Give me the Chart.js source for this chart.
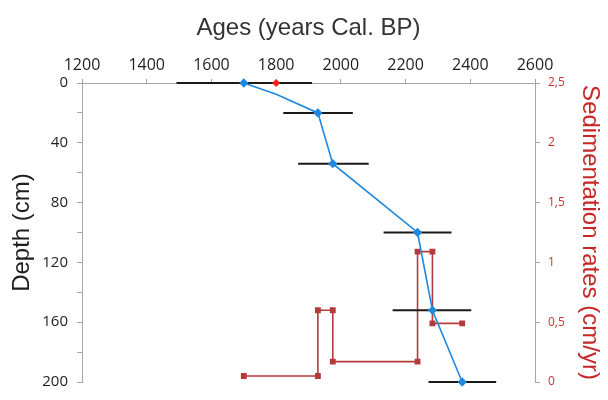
<!DOCTYPE html>
<html lang="en">
<head>
<meta charset="UTF-8">
<title>Ages vs depth</title>
<script src="https://cdn.jsdelivr.net/npm/chart.js"></script>
<style>
  body { margin: 0; background: #fff; }
  #chart { display: block; }
</style>
</head>
<body>
<canvas id="chart" width="608" height="400"></canvas>
<script>
// age-depth model (blue line), only dated levels get a marker
const modelAges   = [1700, 1800, 1929, 1975, 2237, 2283, 2375];
const modelDepths = [0, 7.5, 20, 54, 100, 152, 200];
const modelDated  = [true, false, true, true, true, true, true];

// calibrated age ranges of the dated levels (black bars)
const datedDepths = [0, 20, 54, 100, 152, 200];
const ageMin = [1492, 1822, 1868, 2132, 2160, 2271];
const ageMax = [1911, 2037, 2086, 2342, 2403, 2480];

// surface sample (red diamond)
const surfaceAges   = [1800];
const surfaceDepths = [0];

// sedimentation rates, one value between each pair of boundaries
const rateBounds = [1700, 1929, 1975, 2237, 2283, 2375];
const rates      = [0.05, 0.6, 0.17, 1.09, 0.49];

// axes
const ageRange   = [1200, 2600];
const depthRange = [0, 200];
const rateRange  = [0, 2.5];

const blue = '#1f88e0';
const darkRed = '#b53a3a';

const modelPoints = modelAges.map((a, i) => ({ x: a, y: modelDepths[i] }));

const ratePoints = [];
rates.forEach((r, i) => {
    ratePoints.push({ x: rateBounds[i], y: r });
    ratePoints.push({ x: rateBounds[i + 1], y: r });
});

const datasets = [
    {
        label: 'Age model',
        data: modelPoints,
        showLine: true,
        borderColor: blue,
        backgroundColor: blue,
        borderWidth: 1.6,
        pointStyle: 'rectRot',
        pointRadius: modelDated.map(d => d ? 3.5 : 0),
        yAxisID: 'y',
        clip: false
    },
    {
        label: 'Surface',
        data: surfaceAges.map((a, i) => ({ x: a, y: surfaceDepths[i] })),
        backgroundColor: '#ff1a1a',
        borderColor: '#ff1a1a',
        pointStyle: 'rectRot',
        pointRadius: 3.5,
        yAxisID: 'y',
        clip: false
    }
];

datedDepths.forEach((d, i) => {
    datasets.push({
        label: 'range ' + i,
        data: [{ x: ageMin[i], y: d }, { x: ageMax[i], y: d }],
        showLine: true,
        borderColor: '#1a1a1a',
        borderWidth: 2,
        pointRadius: 0,
        yAxisID: 'y',
        clip: false
    });
});

datasets.push({
    label: 'Sedimentation rate',
    data: ratePoints,
    showLine: true,
    borderColor: darkRed,
    backgroundColor: darkRed,
    borderWidth: 1.6,
    pointStyle: 'rect',
    pointRadius: 3,
    yAxisID: 'y2',
    clip: false
});

new Chart(document.getElementById('chart'), {
    type: 'scatter',
    data: { datasets: datasets },
    options: {
        responsive: false,
        animation: false,
        layout: { padding: { top: 0, right: 0, bottom: 7, left: 0 } },
        plugins: { legend: { display: false }, tooltip: { enabled: false } },
        scales: {
            x: {
                type: 'linear',
                position: 'top',
                min: ageRange[0],
                max: ageRange[1],
                afterFit: s => { s.height = 83; },
                border: { color: '#a6a6a6', width: 1 },
                grid: { drawOnChartArea: false, tickLength: 4, color: '#a6a6a6' },
                ticks: {
                    stepSize: 200,
                    padding: 4,
                    color: '#1e1e1e',
                    font: { family: 'Open Sans', size: 16 },
                    callback: v => String(v)
                },
                title: {
                    display: true,
                    text: 'Ages (years Cal. BP)',
                    color: '#333',
                    padding: { top: 14, bottom: 0 },
                    font: { family: 'Liberation Sans', size: 24 }
                }
            },
            y: {
                type: 'linear',
                position: 'left',
                reverse: true,
                min: depthRange[0],
                max: depthRange[1],
                afterFit: s => { s.width = 82; },
                border: { color: '#a6a6a6', width: 1 },
                grid: { drawOnChartArea: false, tickLength: 5, color: '#a6a6a6' },
                ticks: {
                    stepSize: 20,
                    padding: 9,
                    color: '#1e1e1e',
                    font: { family: 'Open Sans', size: 15 },
                    callback: v => (v % 40 === 0 ? v : '')
                },
                title: {
                    display: true,
                    text: 'Depth (cm)',
                    color: '#1e1e1e',
                    padding: { top: 8, bottom: 0 },
                    font: { family: 'Liberation Sans', size: 24 }
                }
            },
            y2: {
                type: 'linear',
                position: 'right',
                min: rateRange[0],
                max: rateRange[1],
                afterFit: s => { s.width = 73; },
                border: { color: '#a6a6a6', width: 1 },
                grid: { drawOnChartArea: false, tickLength: 5, color: '#a6a6a6' },
                ticks: {
                    stepSize: 0.5,
                    padding: 8,
                    color: '#d12f2f',
                    font: { family: 'Open Sans', size: 12 },
                    callback: v => String(v).replace('.', ',')
                },
                title: {
                    display: true,
                    text: 'Sedimentation rates (cm/yr)',
                    color: '#c62828',
                    padding: { top: 4, bottom: 0 },
                    font: { family: 'Liberation Sans', size: 24 }
                }
            }
        }
    }
});
</script>
</body>
</html>
